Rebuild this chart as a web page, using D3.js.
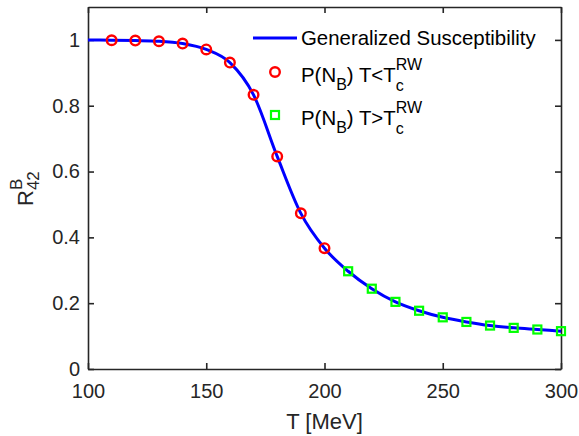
<!DOCTYPE html>
<html>
<head>
<meta charset="utf-8">
<script src="https://d3js.org/d3.v7.min.js"></script>
<style>
  body { margin: 0; background: #fff; }
  svg { display: block; font-family: "Liberation Sans", Arial, sans-serif; }
  .tick text { font-size: 20px; fill: #262626; }
</style>
</head>
<body>
<svg width="579" height="436"></svg>
<script>
// data
var temps = [100, 110, 120, 130, 140, 150, 160, 170, 180, 190, 200, 210, 220, 230, 240, 250, 260, 270, 280, 290, 300];
var suscept = [1.0, 0.999, 0.998, 0.996, 0.989, 0.971, 0.931, 0.833, 0.646, 0.473, 0.367, 0.297, 0.244, 0.204, 0.177, 0.157, 0.143, 0.132, 0.125, 0.120, 0.115];
var lowT = [110, 120, 130, 140, 150, 160, 170, 180, 190, 200];
var lowR = [0.999, 0.998, 0.996, 0.989, 0.971, 0.931, 0.833, 0.646, 0.473, 0.367];
var highT = [210, 220, 230, 240, 250, 260, 270, 280, 290, 300];
var highR = [0.297, 0.244, 0.204, 0.177, 0.157, 0.143, 0.132, 0.125, 0.120, 0.115];
var xTicks = [100, 150, 200, 250, 300];
var yTicks = [0, 0.2, 0.4, 0.6, 0.8, 1];

var svg = d3.select("svg"),
    margin = {top: 7, right: 18, bottom: 67, left: 88},
    width = 579 - margin.left - margin.right,
    height = 436 - margin.top - margin.bottom,
    g = svg.append("g").attr("transform", "translate(" + margin.left + "," + margin.top + ")");

var x = d3.scaleLinear().domain([100, 300]).range([0, width]),
    y = d3.scaleLinear().domain([0, 1.1]).range([height, 0]);

var axisColor = "#262626";

// axes with inward ticks on all four sides
function styleAxis(sel) {
  sel.select(".domain").attr("stroke", axisColor).attr("stroke-width", 1.6);
  sel.selectAll(".tick line").attr("stroke", axisColor).attr("stroke-width", 1.6);
}

g.append("g")
    .attr("transform", "translate(0," + height + ")")
    .call(d3.axisBottom(x).tickValues(xTicks).tickSizeInner(-6).tickSizeOuter(0))
    .call(styleAxis)
    .call(function(a) { a.selectAll(".tick text").attr("dy", "0.71em").attr("y", 15); });

g.append("g")
    .call(d3.axisTop(x).tickValues(xTicks).tickSizeInner(-6).tickSizeOuter(0).tickFormat(""))
    .call(styleAxis);

g.append("g")
    .call(d3.axisLeft(y).tickValues(yTicks).tickSizeInner(-6).tickSizeOuter(0).tickFormat(d3.format("~g")))
    .call(styleAxis)
    .call(function(a) { a.selectAll(".tick text").attr("x", -8); });

g.append("g")
    .attr("transform", "translate(" + width + ",0)")
    .call(d3.axisRight(y).tickValues(yTicks).tickSizeInner(-6).tickSizeOuter(0).tickFormat(""))
    .call(styleAxis);

// curve
var line = d3.line()
    .curve(d3.curveMonotoneX)
    .x(function(d) { return x(d[0]); })
    .y(function(d) { return y(d[1]); });

g.append("path")
    .datum(d3.zip(temps, suscept))
    .attr("d", line)
    .attr("fill", "none")
    .attr("stroke", "#0000ff")
    .attr("stroke-width", 3);

// markers below and above T_c
g.selectAll(".low")
    .data(d3.zip(lowT, lowR))
    .enter().append("circle")
    .attr("class", "low")
    .attr("cx", function(d) { return x(d[0]); })
    .attr("cy", function(d) { return y(d[1]); })
    .attr("r", 4.8)
    .attr("fill", "none")
    .attr("stroke", "#ff0000")
    .attr("stroke-width", 2.4);

g.selectAll(".high")
    .data(d3.zip(highT, highR))
    .enter().append("rect")
    .attr("class", "high")
    .attr("x", function(d) { return x(d[0]) - 4; })
    .attr("y", function(d) { return y(d[1]) - 4; })
    .attr("width", 8)
    .attr("height", 8)
    .attr("fill", "none")
    .attr("stroke", "#00ff00")
    .attr("stroke-width", 2.2);

// axis labels
svg.append("text")
    .attr("x", margin.left + width / 2)
    .attr("y", 429)
    .attr("text-anchor", "middle")
    .attr("font-size", 22)
    .attr("fill", axisColor)
    .text("T [MeV]");

var ylab = svg.append("text")
    .attr("transform", "translate(33,206) rotate(-90)")
    .attr("font-size", 22)
    .attr("fill", axisColor);
ylab.append("tspan").text("R");
var sub42 = ylab.append("tspan").attr("font-size", 17).attr("dy", 6).text("42");
ylab.append("tspan").attr("font-size", 17)
    .attr("dx", -sub42.node().getComputedTextLength())
    .attr("dy", -17).text("B");

// legend
var leg = svg.append("g");
leg.append("line")
    .attr("x1", 253).attr("x2", 297).attr("y1", 38).attr("y2", 38)
    .attr("stroke", "#0000ff").attr("stroke-width", 3);
leg.append("text")
    .attr("x", 301).attr("y", 45)
    .attr("font-size", 20.4).attr("fill", "#000")
    .text("Generalized Susceptibility");

leg.append("circle")
    .attr("cx", 275).attr("cy", 72).attr("r", 4.8)
    .attr("fill", "none").attr("stroke", "#ff0000").attr("stroke-width", 2.4);
leg.append("rect")
    .attr("x", 271).attr("y", 111).attr("width", 8).attr("height", 8)
    .attr("fill", "none").attr("stroke", "#00ff00").attr("stroke-width", 2.2);

function legendEntry(yBase, sign) {
  var t = leg.append("text")
      .attr("x", 301).attr("y", yBase)
      .attr("font-size", 20.4).attr("fill", "#000");
  t.append("tspan").text("P(N");
  t.append("tspan").attr("font-size", 16).attr("dy", 8).text("B");
  t.append("tspan").attr("dy", -8).text(") T" + sign + "T");
  var sup = t.append("tspan").attr("font-size", 16).attr("dy", -12).text("RW");
  t.append("tspan").attr("font-size", 16)
      .attr("dx", -sup.node().getComputedTextLength())
      .attr("dy", 21).text("c");
}
legendEntry(82, "<");
legendEntry(125, ">");
</script>
</body>
</html>
